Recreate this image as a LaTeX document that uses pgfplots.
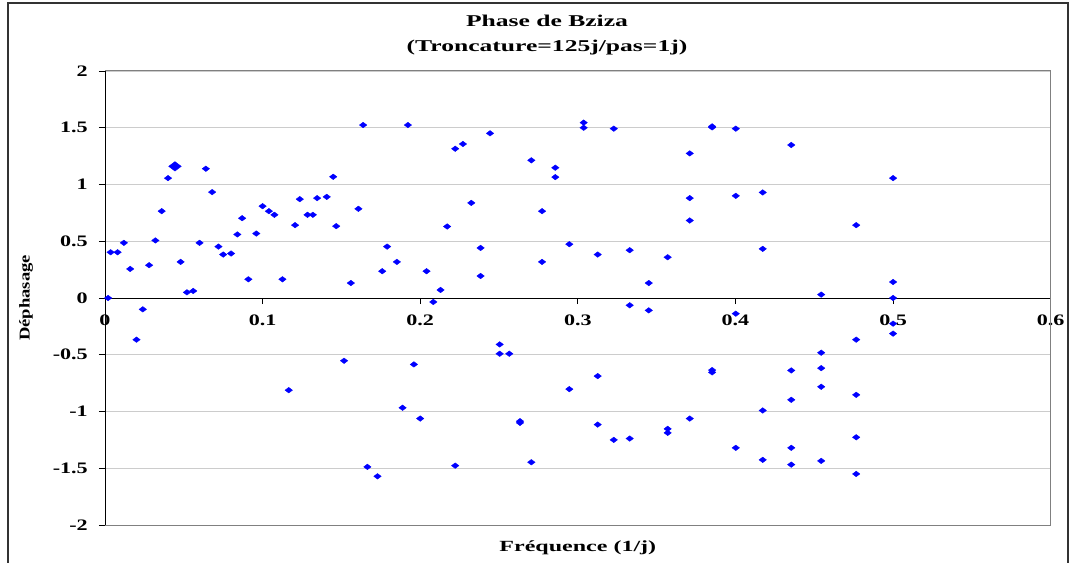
\documentclass[border=0pt]{standalone}
\usepackage{fontspec}
\setmainfont{Liberation Serif}
\newfontfamily\tckfont[FakeStretch=1.38]{Liberation Serif}
\newfontfamily\labfont[FakeStretch=1.55]{Liberation Serif}
\usepackage{pgfplots}
\usepackage{pgfplotstable}
\pgfplotsset{compat=1.18}

% frequence (1/j), dephasage
\pgfplotstableread{
f       ph
0.002   0
0.0036  0.403
0.008   0.403
0.012   0.486
0.016   0.256
0.020  -0.367
0.024  -0.10
0.028   0.289
0.032   0.507
0.036   0.765
0.040   1.056
0.048   0.318
0.052   0.05
0.056   0.062
0.060   0.486
0.064   1.139
0.068   0.933
0.072   0.453
0.075   0.383
0.080   0.392
0.084   0.56
0.087   0.703
0.091   0.165
0.096   0.568
0.100   0.809
0.104   0.765
0.1075  0.733
0.1126  0.165
0.1166 -0.812
0.1206  0.642
0.1236  0.871
0.1285  0.733
0.1319  0.733
0.1346  0.88
0.1407  0.891
0.1448  1.068
0.1467  0.633
0.1517 -0.553
0.156   0.132
0.1608  0.786
0.1638  1.524
0.1665 -1.488
0.1729 -1.571
0.1759  0.236
0.179   0.453
0.1852  0.318
0.1888 -0.967
0.1922  1.524
0.196  -0.585
0.200  -1.062
0.204   0.236
0.2083 -0.035
0.2129  0.071
0.2171  0.63
0.2222  1.315
0.2222 -1.477
0.2271  1.357
0.2324  0.838
0.2383  0.441
0.2383  0.194
0.2443  1.451
0.2504 -0.409
0.2504 -0.491
0.2565 -0.491
0.2633 -1.085
0.2633 -1.100
0.2705  1.213
0.2705 -1.447
0.2773  0.765
0.2773  0.318
0.2857  1.148
0.2857  1.065
0.2946  0.474
0.2946 -0.803
0.3037  1.545
0.3037  1.50
0.3126  0.383
0.3126 -0.688
0.3126 -1.115
0.3228  1.492
0.3228 -1.25
0.3329  0.421
0.3329 -0.064
0.3329 -1.238
0.345   0.132
0.345  -0.109
0.357   0.359
0.357  -1.153
0.357  -1.188
0.371   1.274
0.371   0.88
0.371   0.683
0.371  -1.062
0.3852  1.503
0.3852  1.512
0.3852 -0.635
0.3852 -0.655
0.4002  1.492
0.4002  0.90
0.4002 -0.138
0.4002 -1.320
0.4173  0.93
0.4173  0.433
0.4173 -0.991
0.4173 -1.426
0.4354  1.348
0.4354 -0.638
0.4354 -0.897
0.4354 -1.320
0.4354 -1.468
0.4544  0.03
0.4544 -0.482
0.4544 -0.618
0.4544 -0.782
0.4544 -1.435
0.4766  0.642
0.4766 -0.367
0.4766 -0.853
0.4766 -1.227
0.4766 -1.55
0.500   1.056
0.500   0.141
0.500   0
0.500  -0.226
0.500  -0.314
}\phase

\pgfplotstableread{
f       ph
0.0444  1.16
}\phasebig

\begin{document}
\begin{tikzpicture}
\begin{axis}[
    scale only axis,
    width=945.7bp, height=454bp,
    xmin=0, xmax=0.6, ymin=-2, ymax=2,
    xtick={0,0.1,0.2,0.3,0.4,0.5,0.6},
    ytick={-2,-1.5,-1,-0.5,0,0.5,1,1.5,2},
    axis x line=middle, axis y line=left,
    axis line style={-, black, line width=0.9bp},
    hide obscured x ticks=false, hide obscured y ticks=false,
    tick align=outside, major tick length=6bp,
    tick style={black, line width=0.8bp},
    ymajorgrids, grid style={gray!40, line width=0.9bp},
    /pgf/number format/assume math mode=true,
    /pgf/number format/fixed,
    ticklabel style={font=\tckfont\bfseries\fontsize{16bp}{18bp}\selectfont},
    xticklabel style={anchor=north, inner sep=0pt, yshift=-11bp},
    yticklabel style={anchor=east, inner sep=0pt, xshift=-11bp},
    xlabel={Fréquence (1/j)},
    xlabel style={at={(axis description cs:0.5,-0.0573)}, anchor=base,
        font=\labfont\bfseries\fontsize{15.5bp}{18bp}\selectfont},
    ylabel={Déphasage},
    ylabel style={at={(axis description cs:-0.0835,0.5)}, anchor=center,
        font=\labfont\bfseries\fontsize{15bp}{18bp}\selectfont, xscale=0.8},
    clip=false,
]
\draw[gray, line width=1bp] (rel axis cs:0,0) -- (rel axis cs:1,0)
    -- (rel axis cs:1,1) -- (rel axis cs:0,1);
\addplot[only marks, mark=diamond*, mark size=3.7bp,
    mark options={rotate=90, fill=blue, draw=blue, line width=0.4bp}]
    table[x=f, y=ph] {\phase};
\addplot[only marks, mark=diamond*, mark size=6.3bp,
    mark options={rotate=90, fill=blue, draw=blue, line width=0.4bp}]
    table[x=f, y=ph] {\phasebig};
\node[anchor=base, font=\labfont\bfseries\fontsize{16.5bp}{18bp}\selectfont]
    at (axis description cs:0.4674,1.099) {Phase de Bziza};
\node[anchor=base, font=\labfont\bfseries\fontsize{16.5bp}{18bp}\selectfont]
    at (axis description cs:0.4674,1.044) {(Troncature=125j/pas=1j)};
\draw[black!80, line width=1.2bp] (axis description cs:-0.1026,-0.09)
    -- (axis description cs:-0.1026,1.1498)
    -- (axis description cs:1.0183,1.1498)
    -- (axis description cs:1.0183,-0.09);
\coordinate (bl) at (axis description cs:-0.1110,-0.0815);
\coordinate (tr) at (axis description cs:1.02569,1.15639);
\end{axis}
\pgfresetboundingbox
\path[use as bounding box] (bl) rectangle (tr);
\end{tikzpicture}
\end{document}
